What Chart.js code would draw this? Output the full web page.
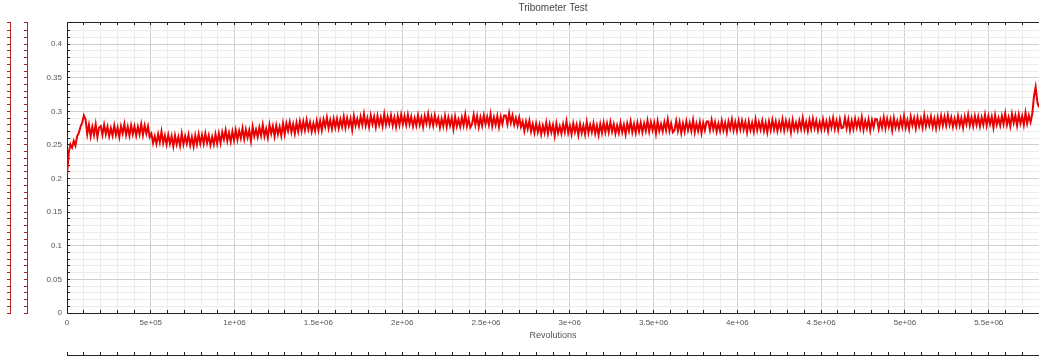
<!DOCTYPE html>
<html>
<head>
<meta charset="utf-8">
<title>Tribometer Test</title>
<script src="https://cdn.jsdelivr.net/npm/chart.js@4.4.0/dist/chart.umd.min.js"></script>
<style>
  body { margin: 0; background: #fff; }
  #wrap { width: 1039px; height: 360px; }
</style>
</head>
<body>
<div id="wrap"><canvas id="chart01"></canvas></div>
<script>
// friction coefficient, one reading every 10000 revolutions (20 readings per row)
var sampleStep = 10000;
var friction = [
  0.205, 0.238, 0.251, 0.246, 0.256, 0.249, 0.263, 0.268, 0.277, 0.283, 0.294, 0.288, 0.266, 0.280, 0.263, 0.277, 0.265, 0.281, 0.262, 0.276,
  0.278, 0.265, 0.280, 0.266, 0.277, 0.263, 0.275, 0.264, 0.279, 0.265, 0.276, 0.262, 0.278, 0.267, 0.281, 0.265, 0.277, 0.264, 0.279, 0.266,
  0.278, 0.264, 0.277, 0.266, 0.281, 0.265, 0.279, 0.267, 0.278, 0.262, 0.267, 0.253, 0.263, 0.252, 0.266, 0.254, 0.270, 0.253, 0.264, 0.251,
  0.265, 0.252, 0.263, 0.248, 0.264, 0.251, 0.262, 0.249, 0.267, 0.251, 0.263, 0.252, 0.265, 0.250, 0.262, 0.248, 0.264, 0.251, 0.266, 0.252,
  0.265, 0.252, 0.267, 0.253, 0.264, 0.250, 0.262, 0.251, 0.266, 0.252, 0.267, 0.253, 0.269, 0.258, 0.272, 0.256, 0.268, 0.255, 0.270, 0.257,
  0.272, 0.258, 0.271, 0.260, 0.275, 0.259, 0.273, 0.261, 0.272, 0.256, 0.277, 0.263, 0.273, 0.262, 0.276, 0.264, 0.280, 0.263, 0.274, 0.261,
  0.280, 0.267, 0.278, 0.263, 0.279, 0.266, 0.277, 0.264, 0.282, 0.266, 0.282, 0.271, 0.284, 0.269, 0.281, 0.267, 0.283, 0.270, 0.285, 0.271,
  0.285, 0.272, 0.287, 0.273, 0.284, 0.270, 0.282, 0.271, 0.286, 0.272, 0.286, 0.272, 0.288, 0.277, 0.291, 0.275, 0.287, 0.274, 0.289, 0.276,
  0.289, 0.275, 0.288, 0.277, 0.292, 0.276, 0.290, 0.278, 0.289, 0.273, 0.293, 0.279, 0.289, 0.278, 0.292, 0.280, 0.296, 0.279, 0.290, 0.277,
  0.294, 0.281, 0.292, 0.277, 0.293, 0.280, 0.291, 0.278, 0.296, 0.280, 0.292, 0.281, 0.294, 0.279, 0.291, 0.277, 0.293, 0.280, 0.295, 0.281,
  0.293, 0.280, 0.295, 0.281, 0.292, 0.278, 0.290, 0.279, 0.294, 0.280, 0.291, 0.277, 0.293, 0.282, 0.296, 0.280, 0.292, 0.279, 0.294, 0.281,
  0.290, 0.276, 0.289, 0.278, 0.293, 0.277, 0.291, 0.279, 0.290, 0.274, 0.292, 0.278, 0.288, 0.277, 0.291, 0.279, 0.295, 0.278, 0.289, 0.276,
  0.281, 0.295, 0.280, 0.293, 0.277, 0.291, 0.279, 0.294, 0.281, 0.292, 0.280, 0.296, 0.278, 0.291, 0.280, 0.293, 0.277, 0.292, 0.281, 0.294,
  0.294, 0.281, 0.297, 0.283, 0.294, 0.280, 0.290, 0.279, 0.291, 0.277, 0.285, 0.271, 0.285, 0.274, 0.286, 0.270, 0.281, 0.268, 0.282, 0.269,
  0.280, 0.266, 0.279, 0.268, 0.283, 0.267, 0.281, 0.269, 0.280, 0.264, 0.282, 0.268, 0.278, 0.267, 0.281, 0.269, 0.285, 0.268, 0.279, 0.266,
  0.282, 0.269, 0.280, 0.265, 0.281, 0.268, 0.279, 0.266, 0.284, 0.268, 0.280, 0.269, 0.282, 0.267, 0.279, 0.265, 0.281, 0.268, 0.283, 0.269,
  0.282, 0.269, 0.284, 0.270, 0.281, 0.267, 0.279, 0.268, 0.283, 0.269, 0.280, 0.266, 0.282, 0.271, 0.285, 0.269, 0.281, 0.268, 0.283, 0.270,
  0.283, 0.269, 0.282, 0.271, 0.286, 0.270, 0.284, 0.272, 0.283, 0.267, 0.285, 0.271, 0.281, 0.270, 0.284, 0.272, 0.288, 0.271, 0.282, 0.269,
  0.272, 0.286, 0.271, 0.284, 0.268, 0.282, 0.270, 0.285, 0.272, 0.283, 0.271, 0.287, 0.269, 0.282, 0.271, 0.284, 0.268, 0.283, 0.272, 0.285,
  0.285, 0.272, 0.287, 0.273, 0.284, 0.270, 0.282, 0.271, 0.286, 0.272, 0.283, 0.269, 0.285, 0.274, 0.288, 0.272, 0.284, 0.271, 0.286, 0.273,
  0.286, 0.273, 0.284, 0.269, 0.285, 0.272, 0.283, 0.270, 0.288, 0.272, 0.284, 0.273, 0.286, 0.271, 0.283, 0.269, 0.285, 0.272, 0.287, 0.273,
  0.285, 0.271, 0.284, 0.273, 0.288, 0.272, 0.286, 0.274, 0.285, 0.269, 0.287, 0.273, 0.283, 0.272, 0.286, 0.274, 0.290, 0.273, 0.284, 0.271,
  0.287, 0.274, 0.289, 0.275, 0.286, 0.272, 0.284, 0.273, 0.288, 0.274, 0.285, 0.271, 0.287, 0.276, 0.290, 0.274, 0.286, 0.273, 0.288, 0.275,
  0.276, 0.290, 0.275, 0.288, 0.272, 0.286, 0.274, 0.289, 0.276, 0.287, 0.275, 0.291, 0.273, 0.286, 0.275, 0.288, 0.272, 0.287, 0.276, 0.289,
  0.288, 0.274, 0.287, 0.276, 0.291, 0.275, 0.289, 0.277, 0.288, 0.272, 0.290, 0.276, 0.286, 0.275, 0.289, 0.277, 0.293, 0.276, 0.287, 0.274,
  0.292, 0.279, 0.290, 0.275, 0.291, 0.278, 0.289, 0.276, 0.294, 0.278, 0.290, 0.279, 0.292, 0.277, 0.289, 0.275, 0.291, 0.278, 0.293, 0.279,
  0.292, 0.279, 0.294, 0.280, 0.291, 0.277, 0.289, 0.278, 0.293, 0.279, 0.290, 0.276, 0.292, 0.281, 0.295, 0.279, 0.291, 0.278, 0.293, 0.280,
  0.292, 0.278, 0.291, 0.280, 0.295, 0.279, 0.293, 0.281, 0.292, 0.276, 0.294, 0.280, 0.290, 0.279, 0.293, 0.281, 0.297, 0.280, 0.291, 0.278,
  0.296, 0.283, 0.294, 0.279, 0.295, 0.282, 0.293, 0.280, 0.298, 0.282, 0.294, 0.284, 0.296, 0.322, 0.336, 0.314, 0.306
];
var revolutions = friction.map(function (v, i) { return i * sampleStep; });

var xMax = 5.76e6;
var yMax = 0.433;

var points = revolutions.map(function (r, i) { return { x: r, y: friction[i] }; });

Chart.defaults.font.family = '"Liberation Sans", Arial, sans-serif';

// 5e+05, 1e+06, 1.5e+06 ... on every fifth tick
function sciLabel(v) {
  var n = Math.round(v / 1e5);
  if (n === 0) return '0';
  if (n % 5 !== 0) return '';
  var e = 5;
  var m = n;
  while (m >= 10) { m = m / 10; e++; }
  return m + 'e+' + (e < 10 ? '0' + e : e);
}

function yLabel(v) {
  var h = Math.round(v * 100);
  if (Math.abs(v * 100 - h) > 1e-6 || h % 5 !== 0) return '';
  return String(h / 100);
}

function xGrid(ctx) {
  if (!ctx.tick) return '#ececec';
  return Math.round(ctx.tick.value / 1e5) % 5 === 0 ? '#cfcfcf' : '#ececec';
}

function yGrid(ctx) {
  if (!ctx.tick) return '#ececec';
  var h = ctx.tick.value * 100;
  return Math.abs(h - Math.round(h)) < 1e-6 && Math.round(h) % 5 === 0 ? '#cfcfcf' : '#ececec';
}

// plain axis strip with tick marks only
function stripAxis(pos, weight, color, tickLength, size, isX) {
  return {
    type: 'linear',
    position: pos,
    weight: weight,
    min: 0,
    max: isX ? xMax : yMax,
    border: { color: color, width: 1 },
    grid: { drawOnChartArea: false, tickLength: tickLength, tickColor: color },
    ticks: { display: false, stepSize: isX ? 1e5 : 0.01, autoSkip: false },
    afterFit: function (s) {
      if (isX) s.height = size; else s.width = size;
    }
  };
}

var ctx = document.getElementById('chart01');
var chart = new Chart(ctx, {
  type: 'line',
  data: {
    datasets: [{
      label: 'Friction',
      data: points,
      borderColor: 'rgb(234,0,0)',
      borderWidth: 2,
      pointRadius: 0,
      tension: 0,
      fill: false
    }]
  },
  options: {
    responsive: true,
    maintainAspectRatio: false,
    animation: false,
    layout: { padding: 0 },
    plugins: {
      legend: { display: false },
      tooltip: { enabled: false },
      title: {
        display: true,
        text: 'Tribometer Test',
        fullSize: false,
        color: '#444',
        font: { size: 10, weight: 'normal' },
        padding: { top: 2, bottom: 2 }
      }
    },
    scales: {
      x: {
        type: 'linear',
        position: 'bottom',
        weight: 0,
        min: 0,
        max: xMax,
        border: { color: '#222', width: 1 },
        grid: { color: xGrid, tickLength: 5, tickColor: 'rgba(0,0,0,0)' },
        ticks: {
          stepSize: 1e5, autoSkip: false, maxRotation: 0, minRotation: 0,
          padding: 0, color: '#555', font: { size: 8 }, callback: sciLabel
        },
        title: {
          display: true, text: 'Revolutions', color: '#555',
          font: { size: 9 }, padding: { top: 0, bottom: 14.5 }
        },
        afterFit: function (s) { s.height = 42; }
      },
      y: {
        type: 'linear',
        position: 'left',
        weight: 0,
        min: 0,
        max: yMax,
        border: { color: '#222', width: 1 },
        grid: { color: yGrid, tickLength: -3, tickColor: '#222' },
        ticks: {
          stepSize: 0.01, autoSkip: false, padding: 8,
          color: '#555', font: { size: 8 }, callback: yLabel
        },
        afterFit: function (s) { s.width = 40; }
      },
      xIn: stripAxis('bottom', -1, '#222', -3, 0, true),
      xTop: stripAxis('top', 1, '#222', -3, 6, true),
      xLow: stripAxis('bottom', 1, '#222', -3, 5, true),
      yRed1: stripAxis('left', 1, '#a82828', 3, 17, false),
      yRed2: stripAxis('left', 2, '#a82828', 3, 10, false)
    }
  }
});
</script>
</body>
</html>
